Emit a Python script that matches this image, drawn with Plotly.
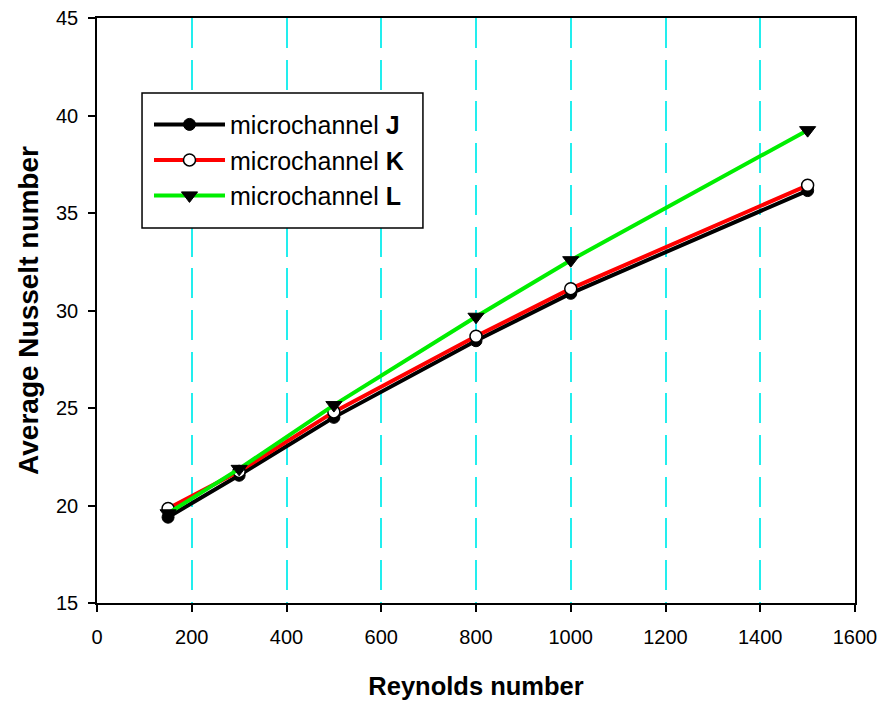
import plotly.graph_objects as go

reynolds = [150, 300, 500, 800, 1000, 1500]
nu_J = [19.4, 21.55, 24.52, 28.45, 30.88, 36.15]
nu_K = [19.85, 21.75, 24.8, 28.68, 31.12, 36.42]
nu_L = [19.6, 21.88, 25.15, 29.68, 32.58, 39.25]

x_ticks = [0, 200, 400, 600, 800, 1000, 1200, 1400, 1600]
y_ticks = [15, 20, 25, 30, 35, 40, 45]

FONT = "Liberation Sans, Arial, sans-serif"

fig = go.Figure()
fig.add_trace(go.Scatter(
    x=reynolds, y=nu_J, mode="lines+markers", name="microchannel <b>J</b>",
    line=dict(color="black", width=4),
    marker=dict(symbol="circle", size=12, color="black", line=dict(color="black", width=1)),
))
fig.add_trace(go.Scatter(
    x=reynolds, y=nu_K, mode="lines+markers", name="microchannel <b>K</b>",
    line=dict(color="#FF0000", width=4),
    marker=dict(symbol="circle", size=12, color="white", line=dict(color="black", width=1.5)),
))
fig.add_trace(go.Scatter(
    x=reynolds, y=nu_L, mode="lines+markers", name="microchannel <b>L</b>",
    line=dict(color="#00EE00", width=4),
    marker=dict(symbol="triangle-down", size=14, color="black", line=dict(color="black", width=1)),
))

# legend frame
fig.add_shape(type="rect", xref="paper", yref="paper",
              x0=0.0594, x1=0.430, y0=0.641, y1=0.872,
              line=dict(color="black", width=1.5), fillcolor="white", layer="above")

fig.update_layout(
    width=884, height=701,
    margin=dict(l=97, r=29, t=18, b=98, autoexpand=False),
    paper_bgcolor="white", plot_bgcolor="white",
    font=dict(family=FONT, size=20, color="black"),
    showlegend=True,
    legend=dict(
        x=0.0686, y=0.857, xanchor="left", yanchor="top",
        bgcolor="rgba(0,0,0,0)", borderwidth=0,
        font=dict(family=FONT, size=25, color="black"),
        itemwidth=71, tracegroupgap=0,
    ),
    xaxis=dict(
        range=[0, 1600], tickvals=x_ticks, ticktext=[str(v) for v in x_ticks],
        showline=True, linecolor="black", linewidth=1.5, mirror=True,
        ticks="outside", ticklen=7, tickcolor="black", tickwidth=1.5,
        showgrid=True, gridcolor="#22EEEE", gridwidth=1.8, griddash="30px,11.7px",
        zeroline=False, ticklabelstandoff=8, automargin=False,
        tickfont=dict(family=FONT, size=20),
        title=dict(text="<b>Reynolds number</b>", font=dict(family=FONT, size=25.5), standoff=30),
    ),
    yaxis=dict(
        range=[15, 45], tickvals=y_ticks, ticktext=[str(v) for v in y_ticks],
        showline=True, linecolor="black", linewidth=1.5, mirror=True,
        ticks="outside", ticklen=7, tickcolor="black", tickwidth=1.5,
        showgrid=False, zeroline=False, ticklabelstandoff=6, automargin=False,
        tickfont=dict(family=FONT, size=20),
        title=dict(text="<b>Average Nusselt number</b>", font=dict(family=FONT, size=28), standoff=9),
    ),
)

fig.write_html("out.html")
